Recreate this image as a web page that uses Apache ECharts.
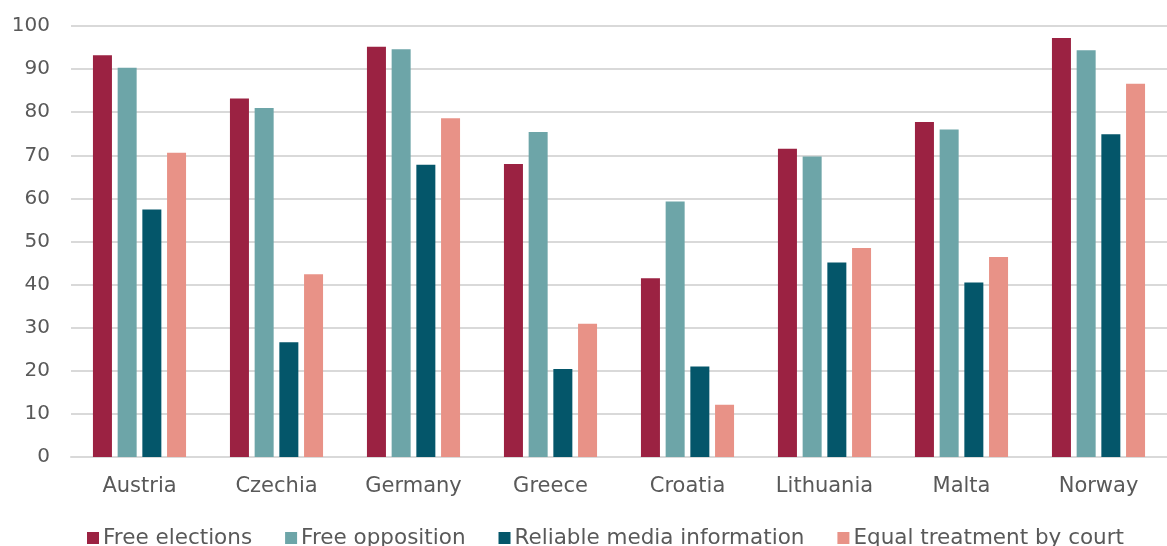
<!DOCTYPE html>
<html>
<head>
    <meta charset="utf-8">
    <script src="https://cdn.jsdelivr.net/npm/echarts@6/dist/echarts.min.js"></script>
</head>
<body style="margin:0">
<div style="width: 1167px;height: 546px;" id="chart"></div>
<script>

let countries = ['Austria', 'Czechia', 'Germany', 'Greece', 'Croatia', 'Lithuania', 'Malta', 'Norway'];

let freeElections = [93.2, 83.2, 95.2, 68.0, 41.5, 71.5, 77.7, 97.2];
let freeOpposition = [90.3, 81.0, 94.6, 75.4, 59.3, 69.7, 76.0, 94.4];
let reliableMedia = [57.4, 26.6, 67.8, 20.4, 21.0, 45.1, 40.5, 74.9];
let equalTreatment = [70.6, 42.4, 78.6, 30.9, 12.1, 48.5, 46.4, 86.6];

let names = ['Free elections', 'Free opposition', 'Reliable media information', 'Equal treatment by court'];
let colors = ['#9b2242', '#6da5a8', '#04566a', '#e89287'];

let chart = echarts.init(document.getElementById('chart'));

let font = 'DejaVu Sans';

let series = [freeElections, freeOpposition, reliableMedia, equalTreatment].map((d, i) => ({
    name: names[i],
    type: 'bar',
    data: d,
    barWidth: 19,
    barGap: '30%',
    itemStyle: {color: colors[i]}
}));

let option = {
    animation: false,
    color: colors,
    textStyle: {fontFamily: font},
    grid: {
        left: 71,
        right: 0,
        top: 26,
        bottom: 89
    },
    legend: {
        left: 82,
        top: 522,
        itemWidth: 12,
        itemHeight: 12,
        itemGap: 33,
        icon: 'rect',
        textStyle: {fontSize: 21.5, color: '#595959', fontFamily: font, padding: [0, 0, 0, -1]}
    },
    xAxis: {
        type: 'category',
        data: countries,
        axisTick: {show: false},
        axisLine: {lineStyle: {color: '#d9d9d9', width: 2}},
        axisLabel: {fontSize: 21, color: '#595959', margin: 19}
    },
    yAxis: {
        type: 'value',
        min: 0,
        max: 100,
        interval: 10,
        axisLabel: {fontSize: 20, color: '#595959', margin: 21},
        splitLine: {lineStyle: {color: '#d9d9d9', width: 2}}
    },
    series: series
};

chart.setOption(option);

</script>
</body>
</html>
